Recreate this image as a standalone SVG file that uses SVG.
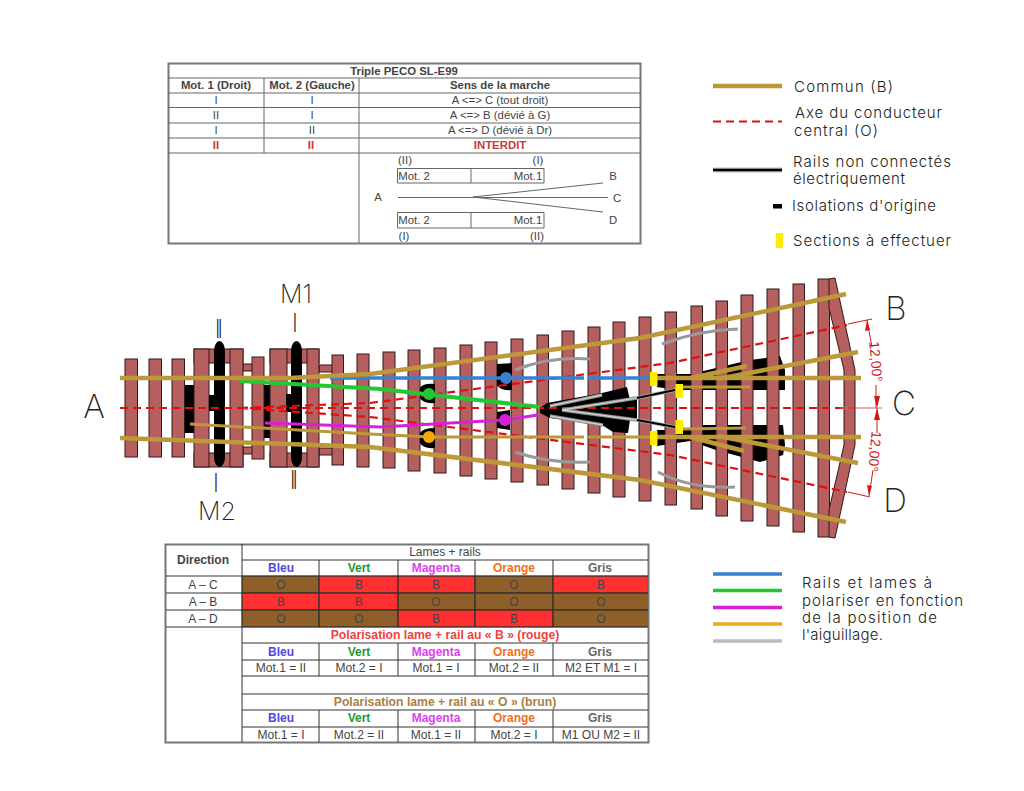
<svg xmlns="http://www.w3.org/2000/svg" width="1024" height="791" viewBox="0 0 1024 791">
<defs><style>
text{font-family:"Liberation Sans",Arial,sans-serif;fill:#444;font-size:11.400px;text-anchor:middle}
.b{font-weight:bold}
.red{fill:#c83a3a}
.cad{font-family:"Inter","DejaVu Sans",sans-serif;font-weight:300;font-size:15px;text-anchor:start;fill:#222}
.big{font-family:"Inter","DejaVu Sans",sans-serif;font-weight:200;fill:#222;font-size:33px}
.mid{font-family:"Inter","DejaVu Sans",sans-serif;font-weight:200;fill:#222;font-size:25px}
.ii{letter-spacing:-4px}
.bl,.ve,.ma,.or,.gr{font-weight:bold;font-size:12px}
.bl{fill:#4a4ae0}.ve{fill:#1e9a2e}.ma{fill:#e040f0}.or{fill:#f07020}.gr{fill:#666}
.c{font-size:12px}
.p{font-size:12.200px;font-weight:bold}
.s{fill:#b55f5f;stroke:#33191a;stroke-width:1}
.k{fill:#000}
.y{fill:#ffee00}
.t{fill:none;stroke:#666;stroke-width:1}
.o{fill:none;stroke:#777;stroke-width:2}
.gold{stroke:#bd9838;stroke-width:4.500;fill:none}
.thin{stroke:#bd9838;stroke-width:3;fill:none}
.grey{stroke:#999;stroke-width:3;fill:none}
.lame{stroke:#888;stroke-width:3.500;fill:none}
.lamei{stroke:#ccc;stroke-width:1.500;fill:none}
.dash{stroke:#e01010;stroke-width:2.200;stroke-dasharray:8 5;fill:none}
.dim{stroke:#d01818;stroke-width:1;fill:none}
.dimt{fill:#d01818;font-size:14px}
.brown{fill:#8f5f2a;stroke:#222;stroke-width:.6}.rd{fill:#ff3030;stroke:#222;stroke-width:.6}
</style></defs>
<rect width="1024" height="791" fill="#fff"/>

<g id="table-top">
<rect class="o" x="168.500" y="63.500" width="472" height="180"/>
<path class="t" d="M168 78H641M168 93H641M168 107.500H641M168 123H641M168 138H641M168 153H641M264 78V153M359 78V243"/>
<text class="b" x="404" y="74.500">Triple PECO SL-E99</text>
<text class="b" x="216" y="89">Mot. 1 (Droit)</text><text class="b" x="312" y="89">Mot. 2 (Gauche)</text><text class="b" x="500" y="89">Sens de la marche</text>
<text x="216" y="104">I</text><text x="312" y="104">I</text><text x="500" y="104">A &lt;=&gt; C (tout droit)</text>
<text x="216" y="119">II</text><text x="312" y="119">I</text><text x="500" y="119">A &lt;=&gt; B (dévié à G)</text>
<text x="216" y="134">I</text><text x="312" y="134">II</text><text x="500" y="134">A &lt;=&gt; D (dévié à Dr)</text>
<text class="b red" x="216" y="149">II</text><text class="b red" x="311" y="149">II</text><text class="b red" x="500" y="149">INTERDIT</text>
<path class="t" d="M397.500 168.500H544V183H397.500ZM471 168V183M397.500 212.500H544V228H397.500ZM471 212V228"/>
<path class="t" d="M398 197.500H608M473 197 603 183M473 197 603 212"/>
<text x="405" y="164">(II)</text><text x="538" y="164">(I)</text>
<text x="414" y="180">Mot. 2</text><text x="528" y="180">Mot.1</text>
<text x="378" y="201">A</text><text x="613" y="180">B</text><text x="617" y="202">C</text><text x="613" y="224">D</text>
<text x="414" y="224">Mot. 2</text><text x="528" y="224">Mot.1</text>
<text x="404" y="240">(I)</text><text x="537" y="240">(II)</text>
</g>

<g id="legend-top">
<path d="M713 86H782" stroke="#bd9838" stroke-width="4.500"/>
<path class="dash" d="M713 121.500H782" stroke-dasharray="6 4"/>
<path d="M713 170H782" stroke="#bbb" stroke-width="5"/><path d="M713 170H782" stroke="#000" stroke-width="2.500"/>
<rect class="k" x="773" y="204" width="9" height="4.500"/>
<rect class="y" x="776" y="233" width="7" height="15"/>
<text class="cad" x="794" y="92" textLength="99">Commun (B)</text>
<text class="cad" x="795" y="118" textLength="147">Axe du conducteur</text>
<text class="cad" x="794" y="136" textLength="84">central (O)</text>
<text class="cad" x="793" y="167" textLength="158">Rails non connectés</text>
<text class="cad" x="793" y="184" textLength="112">électriquement</text>
<text class="cad" x="792" y="211" textLength="144">Isolations d'origine</text>
<text class="cad" x="793" y="246" textLength="158">Sections à effectuer</text>
</g>

<g id="isolations-under">
<path class="k" d="M657 374H691L716 368 750 360 780 356 785 370V390H676L657 387ZM657 430H690L702 425H783L785 445 783 455 760 462 716 450 690 441 657 446Z"/>
<rect class="k" x="184" y="385" width="10" height="48"/><rect class="k" x="252" y="396" width="4" height="25"/><rect class="k" x="264" y="385" width="6" height="53"/>
</g>

<g id="sleepers">
<rect class="s" x="125" y="359" width="12.500" height="98"/><rect class="s" x="149" y="359" width="12.500" height="98"/><rect class="s" x="172" y="359" width="12.500" height="98"/>
<rect class="s" x="243" y="364" width="10" height="7"/><rect class="s" x="243" y="447" width="10" height="7"/>
<rect class="s" x="319" y="365" width="14" height="7"/><rect class="s" x="319" y="448" width="14" height="7"/>
<rect class="s" x="194" y="349" width="49" height="14"/><rect class="s" x="194" y="453" width="49" height="14"/>
<rect class="s" x="194" y="349" width="15" height="118"/><rect class="s" x="230" y="349" width="13" height="118"/>
<rect class="s" x="252" y="357" width="12" height="102"/>
<rect class="s" x="270" y="349" width="49" height="14"/><rect class="s" x="270" y="453" width="49" height="14"/>
<rect class="s" x="270" y="349" width="17" height="118"/><rect class="s" x="307" y="349" width="12" height="118"/>
<rect class="s" x="332" y="355" width="11.500" height="110"/><rect class="s" x="357" y="354" width="12" height="113"/>
<rect class="s" x="383" y="352" width="12" height="116"/><rect class="s" x="408" y="350" width="12" height="121"/>
<rect class="s" x="434" y="348" width="12" height="125"/><rect class="s" x="460" y="345" width="12" height="131"/>
<rect class="s" x="485" y="342" width="12" height="137"/><rect class="s" x="511" y="339" width="12" height="143"/>
<rect class="s" x="537" y="335" width="11.500" height="150"/><rect class="s" x="562" y="331" width="12" height="158"/>
<rect class="s" x="588" y="327" width="12" height="166"/><rect class="s" x="613" y="322" width="12" height="175"/>
<rect class="s" x="639" y="317" width="12" height="184"/><rect class="s" x="665" y="312" width="11.500" height="193"/>
<rect class="s" x="691" y="306" width="11.500" height="203"/><rect class="s" x="716" y="301" width="11.500" height="215"/>
<rect class="s" x="741" y="295" width="12" height="226"/><rect class="s" x="767" y="289" width="12" height="237"/>
<rect class="s" x="793" y="284" width="11.500" height="248"/><rect class="s" x="818" y="279" width="11.500" height="258"/>
<path class="s" stroke-width="1.500" d="M829 279 835 278 855 370V445L835 538 829 537V510L844 445V370L829 308Z"/>
</g>

<g id="isolations">
<rect class="k" x="214" y="341" width="11" height="126" rx="5.500" ry="10"/><rect class="k" x="291" y="341" width="11" height="126" rx="5.500" ry="10"/>
<rect class="k" x="209" y="395" width="5" height="16"/><rect class="k" x="286" y="394" width="5" height="18"/>
<path class="k" d="M420 388Q423 383 435 384V403Q423 404 420 398ZM497 364 512 363V390Q500 391 497 385ZM497 412 510 410V430L497 428ZM420 433Q423 428 435 428V448Q423 449 420 443Z"/>
<path class="k" d="M540 408 547 403 602 393 627 387 630 400 637 398V418L630 420 628 433 613 432 602 425 550 418 540 413Z"/>
</g>

<g id="connectors">
<path class="dash" d="M120 408H860M240 408 370 403 670 363 847 325M240 408 370 417 670 455 847 492"/>
<path class="dim" d="M848 324 872 319M867 320 872 347M876 385V408M877 408V433M873 470 869 496M848 492 870 497"/>
<path d="M840 408H882" stroke="#d06060" stroke-width="1"/>
<path d="M867 320 865 331 870 330ZM877 408 874 396H880ZM877 408 874 420H880ZM869 496 867 485 872 486Z" fill="#d01818"/>
<text class="dimt" transform="translate(871,362) rotate(85)">12,00°</text>
<text class="dimt" transform="translate(870,451) rotate(95)">12,00°</text>

<path class="grey" d="M515 370Q550 356 590 359M515 452Q550 464 590 462M662 344Q700 330 738 329M658 472Q690 489 735 487"/>
<path class="lame" d="M550 406 602 395M550 416 603 425M562 410 637 398M562 410 637 420"/>
<path class="lamei" d="M550 406 602 395M550 416 603 425M562 410 637 398M562 410 637 420"/>
<path stroke="#aaa" stroke-width="3.500" fill="none" d="M637 398 675 390M637 420 675 427"/>
<path stroke="#000" stroke-width="2" fill="none" d="M637 398 675 390M637 420 675 427"/>

<path stroke="#3a7fd0" stroke-width="3.500" fill="none" d="M330 378H584M588 378H650"/>
<path stroke="#22c832" stroke-width="4" fill="none" d="M240 381 380 389 540 407"/>
<path stroke="#d820d8" stroke-width="3" fill="none" d="M265 423 380 427 504 420 538 415"/>
<path class="gold" d="M120 378H290L370 374 640 338 846 294"/>
<path class="gold" d="M120 438 370 447 640 480 846 522"/>
<path class="thin" d="M190 424 370 434 430 437H584M588 437H650"/>
<path class="gold" d="M657 378H861M657 437H861M691 378 747 366M718 379 858 352M690 437 744 451M718 436 858 463"/>
<path class="thin" d="M683 387H750M683 429 746 428"/>
<circle cx="506" cy="378" r="6" fill="#3a7fd0"/><circle cx="429" cy="394" r="6" fill="#22c832"/><circle cx="505" cy="420" r="6" fill="#d820d8"/><circle cx="429" cy="437" r="6" fill="#f5a800"/>
<rect class="y" x="650" y="372" width="7.500" height="14"/><rect class="y" x="650" y="431" width="7.500" height="14"/>
<rect class="y" x="675.500" y="384" width="7.500" height="14"/><rect class="y" x="675.500" y="420" width="7.500" height="14"/>
</g>

<g id="labels" opacity="0.99">
<text class="big" x="94" y="418">A</text><text class="big" x="896" y="320">B</text><text class="big" x="904" y="415">C</text><text class="big" x="895" y="512">D</text>
<text class="mid" x="296" y="303">M1</text><text class="mid" x="217" y="520">M2</text>
<text class="mid" x="295" y="332">I</text><text class="mid ii" x="217" y="338">II</text>
<text class="mid" x="216" y="492">I</text><text class="mid ii" x="292" y="489">II</text>
</g>

<g id="table-bottom">
<rect class="brown" x="242" y="576" width="77" height="17"/><rect class="rd" x="319" y="576" width="79" height="17"/><rect class="rd" x="398" y="576" width="77" height="17"/><rect class="brown" x="475" y="576" width="78" height="17"/><rect class="rd" x="553" y="576" width="95" height="17"/>
<rect class="rd" x="242" y="593" width="77" height="17"/><rect class="rd" x="319" y="593" width="79" height="17"/><rect class="brown" x="398" y="593" width="77" height="17"/><rect class="brown" x="475" y="593" width="78" height="17"/><rect class="brown" x="553" y="593" width="95" height="17"/>
<rect class="brown" x="242" y="610" width="77" height="17"/><rect class="brown" x="319" y="610" width="79" height="17"/><rect class="rd" x="398" y="610" width="77" height="17"/><rect class="rd" x="475" y="610" width="78" height="17"/><rect class="brown" x="553" y="610" width="95" height="17"/>
<rect class="o" x="165.500" y="544.500" width="483" height="198"/>
<path fill="none" stroke="#333" stroke-width="1" d="M242 544V742M242 560H648M166 576H648M166 593H648M166 610H648M166 627H648M242 643H648M242 660H648M242 676H648M242 694H648M242 710H648M242 727H648M319 560V627M398 560V627M475 560V627M553 560V627M319 643V676M398 643V676M475 643V676M553 643V676M319 710V742M398 710V742M475 710V742M553 710V742"/>
<text class="b c" x="203" y="564">Direction</text><text class="c" x="445" y="556">Lames + rails</text>
<text class="bl" x="281" y="572">Bleu</text><text class="ve" x="359" y="572">Vert</text><text class="ma" x="436" y="572">Magenta</text><text class="or" x="514" y="572">Orange</text><text class="gr" x="600" y="572">Gris</text>
<text class="c" x="203" y="589">A – C</text><text class="c" x="281" y="589">O</text><text class="c" x="359" y="589">B</text><text class="c" x="436" y="589">B</text><text class="c" x="514" y="589">O</text><text class="c" x="601" y="589">B</text>
<text class="c" x="203" y="606">A – B</text><text class="c" x="281" y="606">B</text><text class="c" x="359" y="606">B</text><text class="c" x="436" y="606">O</text><text class="c" x="514" y="606">O</text><text class="c" x="601" y="606">O</text>
<text class="c" x="203" y="623">A – D</text><text class="c" x="281" y="623">O</text><text class="c" x="359" y="623">O</text><text class="c" x="436" y="623">B</text><text class="c" x="514" y="623">B</text><text class="c" x="601" y="623">O</text>
<text class="p" x="445" y="639" style="fill:#f04040">Polarisation lame + rail au « B » (rouge)</text>
<text class="bl" x="281" y="656">Bleu</text><text class="ve" x="359" y="656">Vert</text><text class="ma" x="436" y="656">Magenta</text><text class="or" x="514" y="656">Orange</text><text class="gr" x="600" y="656">Gris</text>
<text class="c" x="281" y="672">Mot.1 = II</text><text class="c" x="359" y="672">Mot.2 = I</text><text class="c" x="436" y="672">Mot.1 = I</text><text class="c" x="514" y="672">Mot.2 = II</text><text class="c" x="601" y="672">M2 ET M1 = I</text>
<text class="p" x="445" y="706" style="fill:#a87f3f">Polarisation lame + rail au « O » (brun)</text>
<text class="bl" x="281" y="722">Bleu</text><text class="ve" x="359" y="722">Vert</text><text class="ma" x="436" y="722">Magenta</text><text class="or" x="514" y="722">Orange</text><text class="gr" x="600" y="722">Gris</text>
<text class="c" x="281" y="739">Mot.1 = I</text><text class="c" x="359" y="739">Mot.2 = II</text><text class="c" x="436" y="739">Mot.1 = II</text><text class="c" x="514" y="739">Mot.2 = I</text><text class="c" x="601" y="739">M1 OU M2 = II</text>
</g>

<g id="legend-bottom">
<path d="M713 574H782" stroke="#3a7fd0" stroke-width="3.500"/><path d="M713 590.500H782" stroke="#22c832" stroke-width="3.500"/><path d="M713 607.500H782" stroke="#d820d8" stroke-width="3.500"/><path d="M713 624H782" stroke="#eaaa20" stroke-width="3.500"/><path d="M713 641H782" stroke="#bbb" stroke-width="3.500"/>
<text class="cad" x="802" y="588" textLength="130">Rails et lames à</text>
<text class="cad" x="802" y="606" textLength="161">polariser en fonction</text>
<text class="cad" x="802" y="623" textLength="135">de la position de</text>
<text class="cad" x="802" y="640" textLength="81">l'aiguillage.</text>
</g>
</svg>
